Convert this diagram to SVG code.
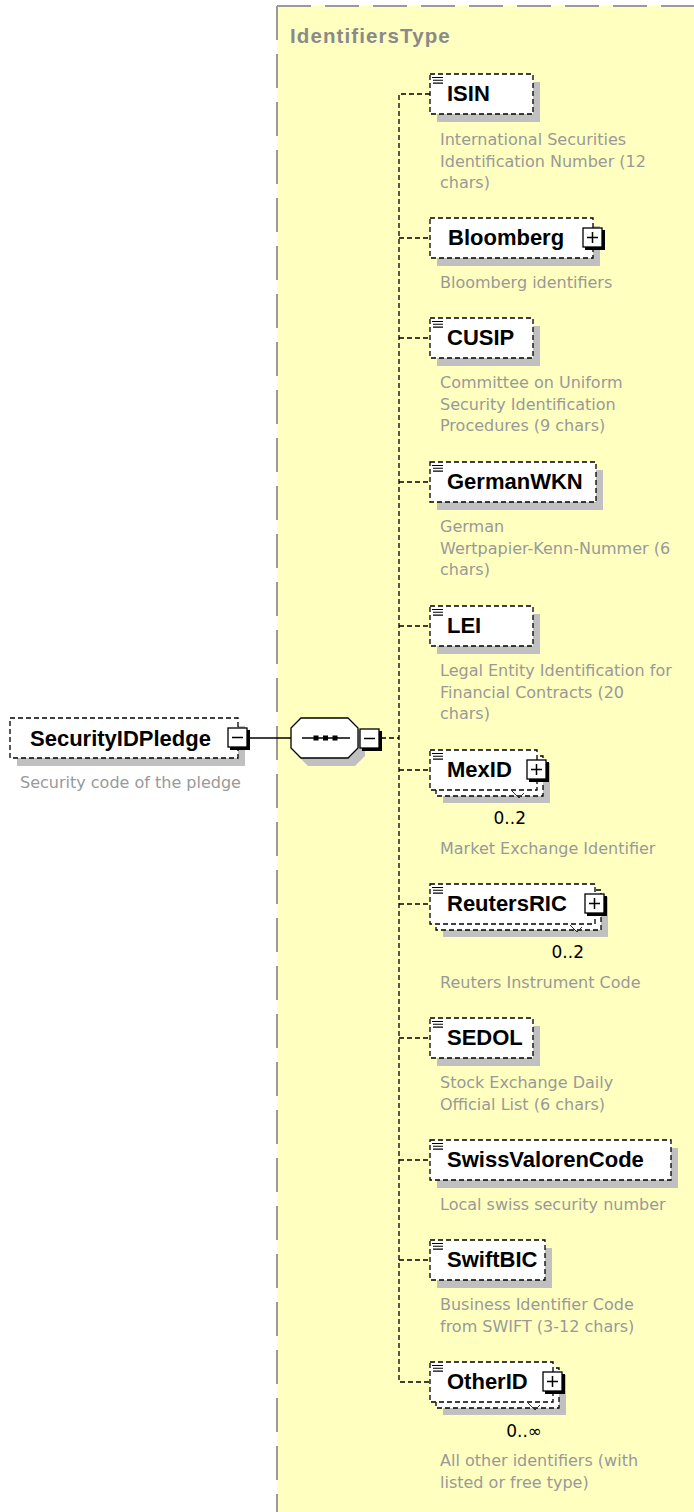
<svg xmlns="http://www.w3.org/2000/svg" width="694" height="1512" viewBox="0 0 694 1512">
<style>
.panel{fill:#ffffc0}
.pborder{fill:none;stroke:#9a9a9a;stroke-width:2;stroke-dasharray:34 14}
.title{font-family:"Liberation Sans",Arial,sans-serif;font-weight:bold;font-size:20.5px;letter-spacing:1.1px;fill:#8a8a8a}
.box{fill:#fff;stroke:#000;stroke-width:1.3;stroke-dasharray:5 3}
.shadow{fill:#c0c0c0}
.name{font-family:"Liberation Sans",Arial,sans-serif;font-weight:bold;font-size:22px;fill:#000}
.desc{font-family:"DejaVu Sans",Verdana,sans-serif;font-size:16px;fill:#999}
.occ{font-family:"DejaVu Sans",Verdana,sans-serif;font-size:17px;fill:#000;text-anchor:end}
.conn{fill:none;stroke:#000;stroke-width:1.3;stroke-dasharray:5 3}
.solid{fill:none;stroke:#000;stroke-width:1.3}
.tail{fill:none;stroke:#333;stroke-width:1}
</style>
<defs>
<g id="icon"><path d="M0,0H11M1,2.8H11M1,5.6H11" fill="none" stroke="#000" stroke-width="1.1"/></g>
<g id="plus"><rect x="-10" y="-10" width="19" height="19" fill="#fff" stroke="#000" stroke-width="1.3"/><path d="M10.5,-8V10.5H-8" fill="none" stroke="#000" stroke-width="3"/><path d="M-6,-0.5H5M-0.5,-6V5" stroke="#000" stroke-width="1.5"/></g>
<g id="minus"><rect x="-10" y="-10" width="19" height="19" fill="#fff" stroke="#000" stroke-width="1.3"/><path d="M10.5,-8V10.5H-8" fill="none" stroke="#000" stroke-width="3"/><path d="M-6,-0.5H5" stroke="#000" stroke-width="1.5"/></g>
</defs>

<rect class="panel" x="277" y="6" width="417" height="1506"/>
<path class="pborder" d="M277,6H694"/>
<path class="pborder" d="M277,6V1512"/>
<text class="title" x="290" y="43">IdentifiersType</text>

<g id="connectors">
<path class="solid" d="M249,738H291"/>
<path class="conn" d="M381,738H399"/>
<path class="conn" d="M430,94H399V1382H430"/>
<path class="conn" d="M399,238H430M399,338H430M399,482H430M399,626H430M399,770H430M399,904H430M399,1038H430M399,1160H430M399,1260H430"/>
</g>

<g id="SecurityIDPledge">
<rect class="shadow" x="17" y="726" width="228" height="40"/>
<rect class="box" x="10" y="718" width="228" height="40"/>
<text class="name" x="30" y="746">SecurityIDPledge</text>
<use href="#minus" x="238" y="738"/>
<text class="desc" x="20" y="788">Security code of the pledge</text>
</g>

<g id="sequence">
<path class="shadow" d="M308,726H355L365,736V756L355,766H308L298,756V736Z"/>
<path d="M301,718H348L358,728V748L348,758H301L291,748V728Z" fill="#fff" stroke="#000" stroke-width="1.3"/>
<path d="M302,738H350" stroke="#000" stroke-width="1.3"/>
<rect x="313.5" y="735.5" width="5" height="5" fill="#000"/>
<rect x="323" y="735.5" width="5" height="5" fill="#000"/>
<rect x="332.5" y="735.5" width="5" height="5" fill="#000"/>
<use href="#minus" x="370" y="739"/>
</g>

<g id="ISIN">
<rect class="shadow" x="437" y="82" width="103" height="40"/>
<rect class="box" x="430" y="74" width="103" height="40"/>
<use href="#icon" x="432" y="77.5"/>
<text class="name" x="447" y="101">ISIN</text>
<text class="desc" x="440" y="145">International Securities</text>
<text class="desc" x="440" y="166.5">Identification Number (12</text>
<text class="desc" x="440" y="188">chars)</text>
</g>

<g id="Bloomberg">
<rect class="shadow" x="437" y="226" width="163" height="40"/>
<rect class="box" x="430" y="218" width="163" height="40"/>
<text class="name" x="448" y="245">Bloomberg</text>
<use href="#plus" x="593" y="238"/>
<text class="desc" x="440" y="288">Bloomberg identifiers</text>
</g>

<g id="CUSIP">
<rect class="shadow" x="437" y="326" width="103" height="40"/>
<rect class="box" x="430" y="318" width="103" height="40"/>
<use href="#icon" x="432" y="321.5"/>
<text class="name" x="447" y="345">CUSIP</text>
<text class="desc" x="440" y="388">Committee on Uniform</text>
<text class="desc" x="440" y="409.5">Security Identification</text>
<text class="desc" x="440" y="431">Procedures (9 chars)</text>
</g>

<g id="GermanWKN">
<rect class="shadow" x="437" y="470" width="166" height="40"/>
<rect class="box" x="430" y="462" width="166" height="40"/>
<use href="#icon" x="432" y="465.5"/>
<text class="name" x="447" y="489">GermanWKN</text>
<text class="desc" x="440" y="532">German</text>
<text class="desc" x="440" y="553.5">Wertpapier-Kenn-Nummer (6</text>
<text class="desc" x="440" y="575">chars)</text>
</g>

<g id="LEI">
<rect class="shadow" x="437" y="614" width="103" height="40"/>
<rect class="box" x="430" y="606" width="103" height="40"/>
<use href="#icon" x="432" y="609.5"/>
<text class="name" x="447" y="633">LEI</text>
<text class="desc" x="440" y="676">Legal Entity Identification for</text>
<text class="desc" x="440" y="697.5">Financial Contracts (20</text>
<text class="desc" x="440" y="719">chars)</text>
</g>

<g id="MexID">
<rect class="shadow" x="443" y="763" width="107" height="40"/>
<rect class="box" x="436" y="756" width="107" height="40"/>
<rect class="box" x="430" y="750" width="107" height="40"/>
<path class="tail" d="M512,791L519,798L524,793"/>
<use href="#icon" x="432" y="753.5"/>
<text class="name" x="447" y="777">MexID</text>
<use href="#plus" x="537" y="770"/>
<text class="occ" x="526" y="824">0..2</text>
<text class="desc" x="440" y="854">Market Exchange Identifier</text>
</g>

<g id="ReutersRIC">
<rect class="shadow" x="443" y="897" width="165" height="40"/>
<rect class="box" x="436" y="890" width="165" height="40"/>
<rect class="box" x="430" y="884" width="165" height="40"/>
<path class="tail" d="M570,925L577,932L582,927"/>
<use href="#icon" x="432" y="887.5"/>
<text class="name" x="447" y="911">ReutersRIC</text>
<use href="#plus" x="595" y="904"/>
<text class="occ" x="584" y="958">0..2</text>
<text class="desc" x="440" y="988">Reuters Instrument Code</text>
</g>

<g id="SEDOL">
<rect class="shadow" x="437" y="1026" width="103" height="40"/>
<rect class="box" x="430" y="1018" width="103" height="40"/>
<use href="#icon" x="432" y="1021.5"/>
<text class="name" x="447" y="1045">SEDOL</text>
<text class="desc" x="440" y="1088">Stock Exchange Daily</text>
<text class="desc" x="440" y="1109.5">Official List (6 chars)</text>
</g>

<g id="SwissValorenCode">
<rect class="shadow" x="437" y="1148" width="241" height="40"/>
<rect class="box" x="430" y="1140" width="241" height="40"/>
<use href="#icon" x="432" y="1143.5"/>
<text class="name" x="447" y="1167">SwissValorenCode</text>
<text class="desc" x="440" y="1210">Local swiss security number</text>
</g>

<g id="SwiftBIC">
<rect class="shadow" x="437" y="1248" width="115" height="40"/>
<rect class="box" x="430" y="1240" width="115" height="40"/>
<use href="#icon" x="432" y="1243.5"/>
<text class="name" x="447" y="1267">SwiftBIC</text>
<text class="desc" x="440" y="1310">Business Identifier Code</text>
<text class="desc" x="440" y="1331.5">from SWIFT (3-12 chars)</text>
</g>

<g id="OtherID">
<rect class="shadow" x="443" y="1375" width="123" height="40"/>
<rect class="box" x="436" y="1368" width="123" height="40"/>
<rect class="box" x="430" y="1362" width="123" height="40"/>
<path class="tail" d="M528,1403L535,1410L540,1405"/>
<use href="#icon" x="432" y="1365.5"/>
<text class="name" x="447" y="1389">OtherID</text>
<use href="#plus" x="553" y="1382"/>
<text class="occ" x="542" y="1437">0..∞</text>
<text class="desc" x="440" y="1466">All other identifiers (with</text>
<text class="desc" x="440" y="1487.5">listed or free type)</text>
</g>
</svg>
